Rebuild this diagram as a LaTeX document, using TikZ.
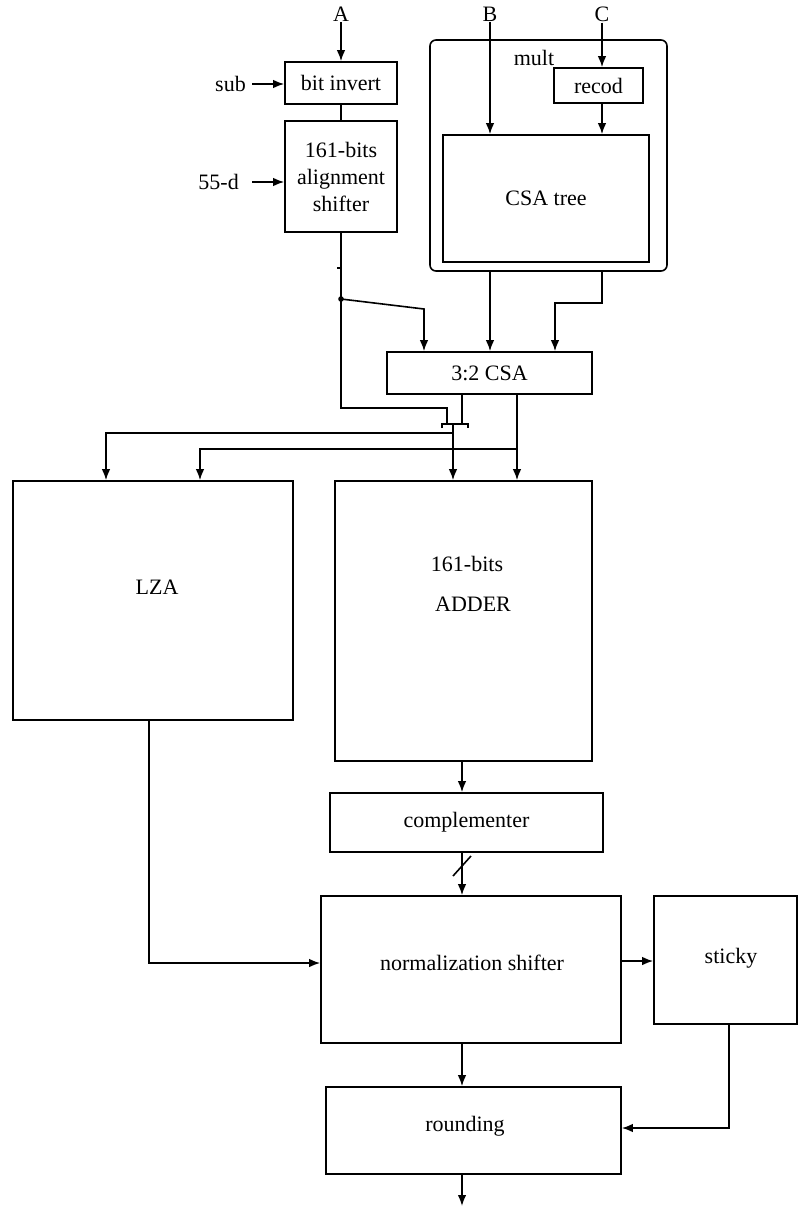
\documentclass[tikz,border=0pt]{standalone}
\usepackage{fontspec}
\setmainfont{Liberation Serif}
\usetikzlibrary{arrows.meta}
\begin{document}
\begin{tikzpicture}[x=1pt,y=-1pt,
  every node/.style={font=\fontsize{22}{27}\selectfont},
  box/.style={draw, line width=1.6pt, inner sep=0pt, align=center},
  lbl/.style={inner sep=1pt, align=center},
  wire/.style={line width=1.6pt},
  arr/.style={line width=1.6pt, -{Latex[length=11pt,width=8.5pt]}}]
\useasboundingbox (0,0) rectangle (798,1207);
% boxes
\node[box, minimum width=112pt, minimum height=42pt] (bitinv) at (341,83) {bit invert};
\node[box, minimum width=112pt, minimum height=111pt] (align) at (341,176.5) {161-bits\\alignment\\shifter};
\node[box, rounded corners=6pt, minimum width=237pt, minimum height=231pt] (mult) at (548.5,155.5) {};
\node[lbl] (multl) at (534,58) {mult};
\node[box, minimum width=89pt, minimum height=35pt] (recod) at (598.5,85.5) {recod};
\node[box, minimum width=206pt, minimum height=127pt] (csatree) at (546,198.5) {CSA tree};
\node[box, minimum width=205pt, minimum height=42pt] (csa32) at (489.5,373) {3:2 CSA};
\node[box, minimum width=280pt, minimum height=239pt] (lza) at (153,600.5) {};
\node[lbl] (lzal) at (157,587) {LZA};
\node[box, minimum width=257pt, minimum height=280pt] (adder) at (463.5,621) {};
\node[lbl] (adl1) at (467,564) {161-bits};
\node[lbl] (adl2) at (473,604) {ADDER};
\node[box, minimum width=273pt, minimum height=59pt] (compl) at (466.5,822.5) {complementer};
\node[box, minimum width=300pt, minimum height=147pt] (norm) at (471,969.5) {};
\node[lbl] (norml) at (472,963) {normalization shifter};
\node[box, minimum width=143pt, minimum height=128pt] (sticky) at (725.5,960) {};
\node[lbl] (stickyl) at (731,958) {sticky};
\node[box, minimum width=295pt, minimum height=87pt] (round) at (473.5,1130.5) {};
\node[lbl] (roundl) at (465,1126) {rounding};
% inputs
\node[lbl] (A) at (341,14) {A};
\node[lbl] (B) at (490,14) {B};
\node[lbl] (C) at (602,14) {C};
\node[lbl, anchor=east] (sub) at (247,84) {sub};
\node[lbl, anchor=east] (d55) at (240,182) {55-d};
\coordinate (subs) at (252,84);
\coordinate (d55s) at (252,182);
\draw[arr] (A.south) -- (A.south |- bitinv.north);
\draw[arr] (subs) -- (subs -| bitinv.west);
\draw[arr] (d55s) -- (d55s -| align.west);
\draw[wire] (bitinv.south) -- (align.north);
\draw[arr] (B.south) -- (B.south |- csatree.north);
\draw[arr] (C.south) -- (C.south |- recod.north);
\draw[arr] (C.south |- recod.south) -- (C.south |- csatree.north);
% mult outputs
\draw[arr] (B.south |- mult.south) -- (B.south |- csa32.north);
\coordinate (rt) at (602,303);
\coordinate (rt2) at (555,303);
\draw[arr] (C.south |- mult.south) -- (rt) -- (rt2) -- (rt2 |- csa32.north);
% alignment shifter output
\coordinate (jn) at (341,299);
\coordinate (jn2) at (424,309);
\coordinate (lo) at (341,408);
\coordinate (lo2) at (447,408);
\coordinate (busL) at (442,424);
\coordinate (busR) at (468,424);
\coordinate (busM) at (453,424);
\draw[wire] (align.south) -- (lo) -- (lo2) -- (lo2 |- busL);
\draw[wire] (337,268) -- (341,268);
\fill (jn) circle (2.8pt);
\draw[arr] (jn) -- (jn2) -- (jn2 |- csa32.north);
\draw[wire] ([yshift=-4pt]busL) -- (busL) -- (busR) -- ([yshift=-4pt]busR);
\coordinate (cl) at (462,394);
\draw[wire] (cl) -- (cl |- busL);
\draw[arr] (busM) -- (busM |- adder.north);
\coordinate (h1) at (453,433);
\coordinate (h1l) at (106,433);
\draw[arr] (h1) -- (h1l) -- (h1l |- lza.north);
\coordinate (cr) at (517,394);
\draw[arr] (cr) -- (cr |- adder.north);
\coordinate (h2) at (517,449);
\coordinate (h2l) at (200,449);
\draw[arr] (h2) -- (h2l) -- (h2l |- lza.north);
% lower chain
\coordinate (mid) at (462,0);
\draw[arr] (mid |- adder.south) -- (mid |- compl.north);
\draw[arr] (mid |- compl.south) -- (mid |- norm.north);
\draw[wire] (453,876) -- (471,856);
\coordinate (lzo) at (149,963);
\draw[arr] (lzo |- lza.south) -- (lzo) -- (lzo -| norm.west);
\coordinate (ns) at (621,961);
\draw[arr] (ns) -- (ns -| sticky.west);
\coordinate (so) at (729,1128);
\draw[arr] (so |- sticky.south) -- (so) -- (so -| round.east);
\draw[arr] (mid |- norm.south) -- (mid |- round.north);
\coordinate (out) at (462,1206);
\draw[arr] (mid |- round.south) -- (out);
\end{tikzpicture}
\end{document}
